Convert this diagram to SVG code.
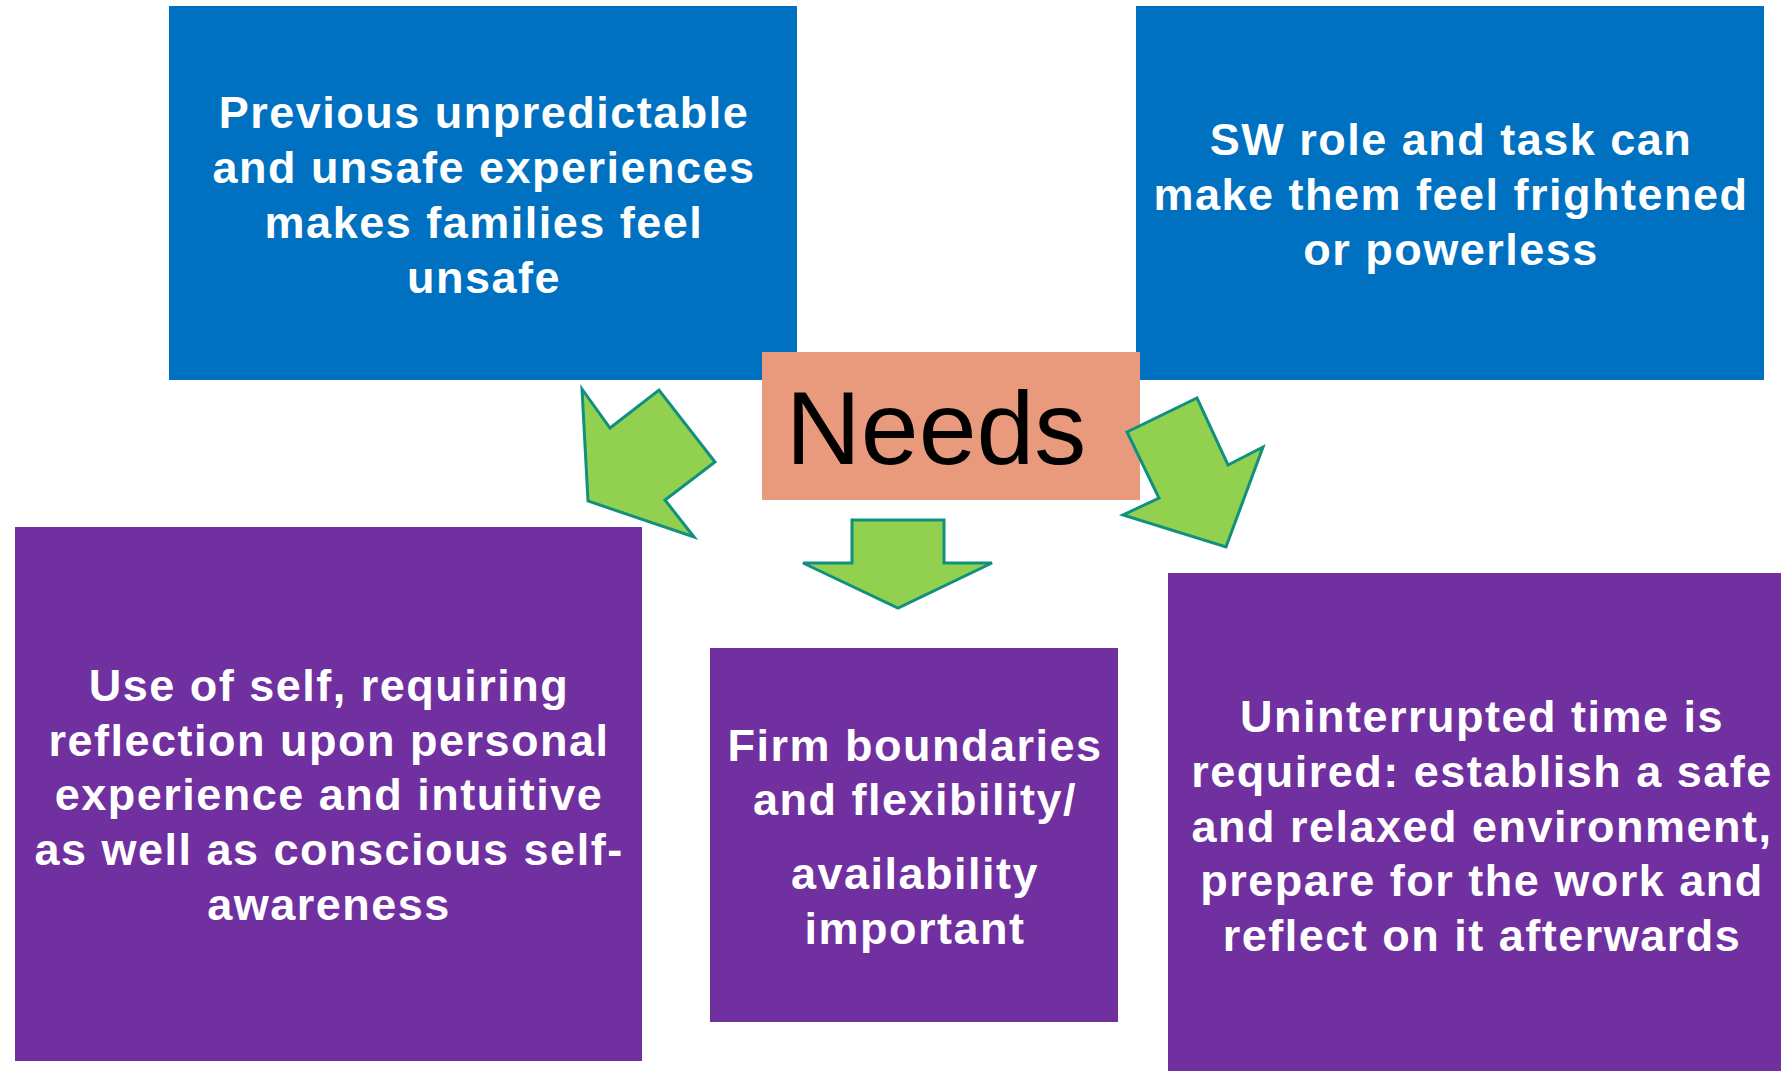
<svg xmlns="http://www.w3.org/2000/svg" width="1781" height="1071" viewBox="0 0 1781 1071">
<style>
.blue{fill:#0070C0}
.purple{fill:#7030A0}
.needs{fill:#E99A7D}
.t{font-family:"Liberation Sans",Arial,sans-serif;font-weight:bold;font-size:45px;letter-spacing:1.5px;fill:#FFFFFF;text-anchor:middle}
.big{font-family:"Liberation Sans",Arial,sans-serif;font-size:104px;fill:#000000;text-anchor:middle}
.arrow{fill:#92D050;stroke:#11907F;stroke-width:3;stroke-linejoin:miter}
</style>
<rect width="1781" height="1071" fill="#FFFFFF"/>
<g id="node-previous">
<rect class="blue" x="169" y="6" width="628" height="374"/>
<text class="t" x="484" y="128">Previous unpredictable</text>
<text class="t" x="484" y="183">and unsafe experiences</text>
<text class="t" x="484" y="238">makes families feel</text>
<text class="t" x="484" y="293">unsafe</text>
</g>
<g id="node-sw">
<rect class="blue" x="1136" y="6" width="628" height="374"/>
<text class="t" x="1451" y="155">SW role and task can</text>
<text class="t" x="1451" y="210">make them feel frightened</text>
<text class="t" x="1451" y="265">or powerless</text>
</g>
<g id="node-useofself">
<rect class="purple" x="15" y="527" width="627" height="534"/>
<text class="t" x="329" y="701">Use of self, requiring</text>
<text class="t" x="329" y="756">reflection upon personal</text>
<text class="t" x="329" y="810">experience and intuitive</text>
<text class="t" x="329" y="865">as well as conscious self-</text>
<text class="t" x="329" y="920">awareness</text>
</g>
<g id="node-firm">
<rect class="purple" x="710" y="648" width="408" height="374"/>
<text class="t" x="915" y="761">Firm boundaries</text>
<text class="t" x="915" y="815">and flexibility/</text>
<text class="t" x="915" y="889">availability</text>
<text class="t" x="915" y="944">important</text>
</g>
<g id="node-uninterrupted">
<rect class="purple" x="1168" y="573" width="630" height="510"/>
<text class="t" x="1482" y="732">Uninterrupted time is</text>
<text class="t" x="1482" y="787">required: establish a safe</text>
<text class="t" x="1482" y="842">and relaxed environment,</text>
<text class="t" x="1482" y="896">prepare for the work and</text>
<text class="t" x="1482" y="951">reflect on it afterwards</text>
</g>
<g id="node-needs">
<rect class="needs" x="762" y="352" width="378" height="148"/>
<text class="big" x="936" y="464">Needs</text>
</g>
<g id="connectors">
<polygon class="arrow" points="582,389 610,428 659,390 715,462 665,500 694,537 588,501"/>
<polygon class="arrow" points="852,520 944,520 944,563 992,563 898,608 803,563 852,563"/>
<polygon class="arrow" points="1127,432 1197,398 1228,465 1263,447 1226,547 1123,515 1159,498"/>
</g>
</svg>
